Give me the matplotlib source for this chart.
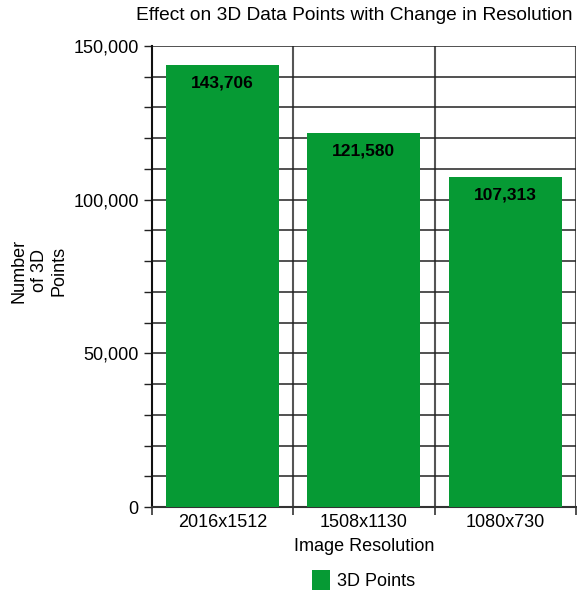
import matplotlib
matplotlib.use("Agg")
import matplotlib.pyplot as plt
from matplotlib.ticker import MultipleLocator, FuncFormatter

resolutions = ["2016x1512", "1508x1130", "1080x730"]
points_3d = [143706, 121580, 107313]

plt.rcParams["font.family"] = ["Liberation Sans", "DejaVu Sans"]
plt.rcParams["font.size"] = 13

fig = plt.figure(figsize=(5.77, 5.92), dpi=100)
ax = fig.add_axes([152 / 577, 1 - 507 / 592, 1 - 152 / 577 - 0.002, (507 - 46) / 592])

green = "#069a34"
x = list(range(len(resolutions)))
bars = ax.bar(x, points_3d, width=0.8, color=green, label="3D Points", zorder=3)

for b, v in zip(bars, points_3d):
    ax.annotate(f"{v:,}", (b.get_x() + b.get_width() / 2, v), xytext=(0, -12.5),
                textcoords="offset points", ha="center", va="center",
                fontsize=12.5, fontweight="bold", color="black", zorder=4)

ax.set_xlim(-0.5, len(resolutions) - 0.5)
ax.set_ylim(0, 150000)

# y: labels every 50k, grid + ticks every 10k
ax.yaxis.set_major_locator(MultipleLocator(50000))
ax.yaxis.set_minor_locator(MultipleLocator(10000))
ax.yaxis.set_major_formatter(FuncFormatter(lambda v, p: f"{int(v):,}"))
ax.tick_params(axis="y", which="both", length=6, width=1, color="#222222", labelsize=13)
ax.grid(axis="y", which="both", color="#222222", lw=1.1, zorder=1)

# x: labels at centres, tick marks + grid at the category boundaries
ax.set_xticks(x)
ax.set_xticklabels(resolutions)
ax.set_xticks([i - 0.5 for i in range(len(resolutions) + 1)], minor=True)
ax.tick_params(axis="x", which="major", length=0, labelsize=13, pad=5)
ax.tick_params(axis="x", which="minor", length=6, width=1.2, color="#333333")
for i in range(1, len(resolutions) + 1):
    ax.axvline(i - 0.5, color="#555555", lw=1.5, zorder=1)

for s in ["top", "right"]:
    ax.spines[s].set_visible(False)
ax.spines["left"].set_color("#111111")
ax.spines["left"].set_linewidth(1.5)
ax.spines["bottom"].set_color("#333333")
ax.spines["bottom"].set_linewidth(1.5)

ax.set_xlabel("Image Resolution", fontsize=13, labelpad=5)
fig.text(39 / 577, 1 - 271 / 592, "Number\nof 3D\nPoints", rotation=90,
         ha="center", va="center", multialignment="center", fontsize=13, linespacing=1.22)
fig.text(354.5 / 577, 1 - 16 / 592, "Effect on 3D Data Points with Change in Resolution",
         ha="center", va="center", fontsize=13.8)

ax.legend(loc="center", bbox_to_anchor=(0.5, -0.158), frameon=False,
          fontsize=13, handlelength=1.0, handleheight=1.3, handletextpad=0.4)

fig.savefig("out.png", dpi=100)
